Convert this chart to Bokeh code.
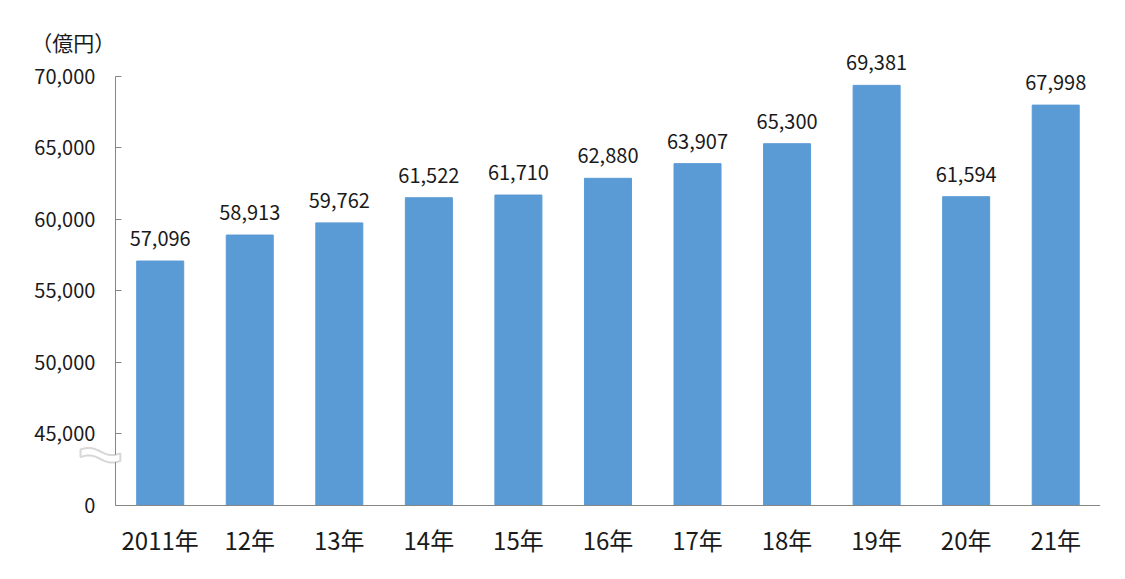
import numpy as np
from bokeh.plotting import figure
from bokeh.models import (ColumnDataSource, FixedTicker, LabelSet, Label, Range1d,
                          PolyAnnotation)
from bokeh.core.properties import value
from bokeh.embed import file_html
from bokeh.resources import INLINE

years = ["2011年", "12年", "13年", "14年", "15年", "16年", "17年", "18年", "19年", "20年", "21年"]
values = [57096, 58913, 59762, 61522, 61710, 62880, 63907, 65300, 69381, 61594, 67998]
y_ticks = [40000, 45000, 50000, 55000, 60000, 65000, 70000]
y_tick_labels = ["0", "45,000", "50,000", "55,000", "60,000", "65,000", "70,000"]
unit_label = "（億円）"

FONT = "Noto Sans CJK JP"
BAR = "#5B9BD5"
AXIS = "#868686"
TXT = "#1a1a1a"
BASE = 40000  # shown as "0" (broken axis)

xs = [i + 0.5 for i in range(len(years))]
src = ColumnDataSource(dict(x=xs, top=values, label=[f"{v:,}" for v in values]))

PX_Y = 5000 / 71.5  # data units per pixel

p = figure(width=1125, height=579, output_backend="svg", toolbar_location=None,
           x_range=Range1d(-1.06, 11.0),
           y_range=Range1d(BASE - 70 * PX_Y, 73566),
           min_border_left=20, min_border_top=25, min_border_right=25, min_border_bottom=4)
p.frame_width = 1080
p.frame_height = 550
p.outline_line_color = None
p.grid.grid_line_color = None
p.background_fill_color = "white"
p.border_fill_color = "white"

p.vbar(x="x", top="top", bottom=BASE, width=0.525, source=src,
       fill_color=BAR, line_color=BAR)

labels = LabelSet(x="x", y="top", text="label", source=src, text_align="center",
                  text_baseline="alphabetic", y_offset=15, text_font=value(FONT),
                  text_font_size=value("20px"), text_color=TXT)
p.add_layout(labels)

# y axis (drawn at x=0 inside the frame)
p.yaxis.fixed_location = 0
p.yaxis.bounds = (BASE, 70000)
p.yaxis.ticker = FixedTicker(ticks=y_ticks)
p.yaxis.major_label_overrides = {t: l for t, l in zip(y_ticks, y_tick_labels)}
p.yaxis.major_tick_in = 6
p.yaxis.major_tick_out = 0
p.yaxis.minor_tick_line_color = None
p.yaxis.axis_line_color = AXIS
p.yaxis.major_tick_line_color = AXIS
p.yaxis.major_label_text_font = FONT
p.yaxis.major_label_text_font_size = "20px"
p.yaxis.major_label_text_color = TXT
p.yaxis.major_label_standoff = 20

# x axis (drawn at the base value)
p.xaxis.fixed_location = BASE
p.xaxis.bounds = (0, 11)
p.xaxis.ticker = FixedTicker(ticks=xs)
p.xaxis.major_label_overrides = {x: y for x, y in zip(xs, years)}
p.xaxis.major_tick_line_color = None
p.xaxis.minor_tick_line_color = None
p.xaxis.axis_line_color = AXIS
p.xaxis.major_label_text_font = FONT
p.xaxis.major_label_text_font_size = "24px"
p.xaxis.major_label_text_color = TXT
p.xaxis.major_label_standoff = 11

p.add_layout(Label(x=-0.47, y=72378, text=unit_label, text_align="center",
                   text_baseline="middle", text_font=FONT, text_font_size="21px",
                   text_color=TXT))

# axis break symbol (decoration, tilde-shaped band across the y axis)
t = np.linspace(0, 1, 40)
bx0, bx1 = -0.39, 0.055
ux = bx0 + t * (bx1 - bx0)
top_px = 449 + 4 * t - 2.5 * np.sin(2 * np.pi * t)   # pixel rows (down)
bot_px = top_px + 7.5
to_data = lambda px: BASE + (505 - px) * PX_Y
bxs = list(ux) + list(ux[::-1])
bys = list(to_data(top_px)) + list(to_data(bot_px)[::-1])
p.add_layout(PolyAnnotation(xs=bxs, ys=bys, fill_color="white", fill_alpha=1,
                            line_color="#7a7a7a", line_width=2))

open("out.html", "w").write(file_html(p, INLINE))
